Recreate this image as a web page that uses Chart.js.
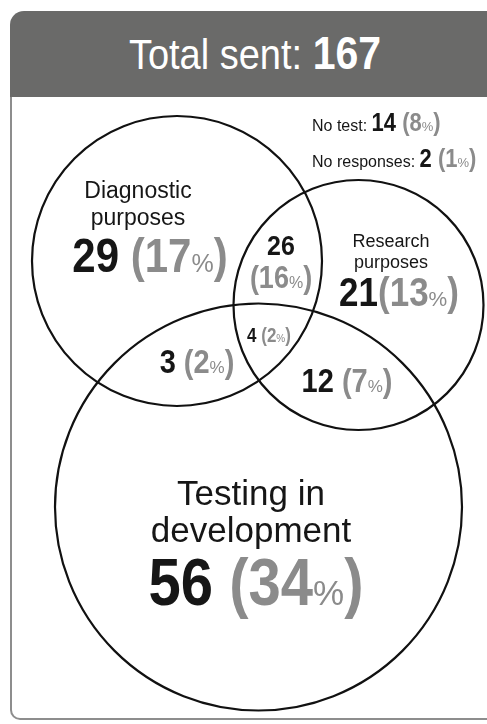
<!DOCTYPE html>
<html>
<head>
<meta charset="utf-8">
<script src="https://cdn.jsdelivr.net/npm/chart.js@4"></script>
<style>
  html, body { margin: 0; padding: 0; background: #fff; overflow: hidden; }
  body { width: 487px; height: 724px; position: relative; font-family: "Liberation Sans", Arial, sans-serif; }
  #head {
    position: absolute; left: 10px; top: 11px; width: 490px; height: 86px;
    background: #6a6a69; border-radius: 14px 14px 0 0;
    color: #fff; text-align: center; line-height: 86px;
  }
  #head span { display: inline-block; transform: scaleY(1.12); transform-origin: 50% 60%; }
  #head .lbl { font-size: 38px; }
  #head .num { font-size: 41px; font-weight: bold; }
  #box {
    position: absolute; left: 10px; top: 97px; width: 486px; height: 621px;
    border: 2px solid #8d8d8d; border-top: none; border-radius: 0 0 10px 10px;
  }
  #venn { position: absolute; left: 0; top: 0; }
</style>
</head>
<body>
<div id="head"><span class="lbl">Total sent:&nbsp;</span><span class="num" id="total"></span></div>
<div id="box"></div>
<canvas id="venn" width="487" height="724"></canvas>
<script>
// Survey counts
var total = 167;
var sets = ['Diagnostic purposes', 'Research purposes', 'Testing in development'];
var setOnly = [29, 21, 56];
var setOnlyPct = [17, 13, 34];
var overlaps = ['Diagnostic + Research', 'Diagnostic + Testing', 'Research + Testing', 'All three'];
var overlapCounts = [26, 3, 12, 4];
var overlapPct = [16, 2, 7, 2];
var outside = ['No test:', 'No responses:'];
var outsideCounts = [14, 2];
var outsidePct = [8, 1];

document.getElementById('total').textContent = total;

// Layout in scale units (x 0..487, y 0..724 downwards)
var layout = {
  circles: [
    { x: 177, y: 261, r: 145 },
    { x: 358.5, y: 305, r: 125 },
    { x: 258.5, y: 507, r: 203.5 }
  ],
  setLabels: [
    { x: 138, lines: [198, 225], nameSize: 23, cx: 150, cy: 272, size: 42, gap: ' ' },
    { x: 391, lines: [247, 268], nameSize: 18, cx: 399, cy: 306, size: 35, gap: '' },
    { x: 251, lines: [505, 542], nameSize: 35, cx: 256, cy: 605, size: 58, gap: ' ' }
  ],
  overlapLabels: [
    { x: 281, y: 255, size: 25, y2: 288, size2: 27 },
    { x: 197, y: 373, size: 29 },
    { x: 347, y: 392, size: 29 },
    { x: 269, y: 342, size: 17 }
  ],
  outsideLabels: [
    { x: 312, y: 131 },
    { x: 312, y: 167 }
  ]
};

var FONT = '"Liberation Sans", Arial, sans-serif';
var BLACK = '#161616';
var GREY = '#8b8b8b';
var NUM_STRETCH = 1.14;

function bold(px) { return 'bold ' + px + 'px ' + FONT; }
function plain(px) { return px + 'px ' + FONT; }

// draws a row of differently styled pieces of text; bold pieces are drawn a bit taller
function drawRuns(ctx, runs, x, y, align) {
  var widths = runs.map(function (r) { ctx.font = r.font; return ctx.measureText(r.text).width; });
  var w = widths.reduce(function (a, b) { return a + b; }, 0);
  var cx = align === 'left' ? x : x - w / 2;
  runs.forEach(function (r, i) {
    ctx.save();
    ctx.font = r.font;
    ctx.fillStyle = r.color;
    ctx.translate(cx, y);
    if (r.font.indexOf('bold') === 0) ctx.scale(1, NUM_STRETCH);
    ctx.fillText(r.text, 0, 0);
    ctx.restore();
    cx += widths[i];
  });
}

function pctRuns(pct, size) {
  return [
    { text: '(' + pct, font: bold(size), color: GREY },
    { text: '%', font: plain(Math.round(size * 0.6)), color: GREY },
    { text: ')', font: bold(size), color: GREY }
  ];
}

// outlines of the three sets, placed through the chart scales
var circlePlugin = {
  id: 'vennCircles',
  beforeDatasetsDraw: function (chart) {
    var ctx = chart.ctx;
    var xs = chart.scales.x, ys = chart.scales.y;
    ctx.save();
    ctx.strokeStyle = '#111';
    ctx.lineWidth = 2.2;
    layout.circles.forEach(function (c) {
      var r = Math.abs(xs.getPixelForValue(c.r) - xs.getPixelForValue(0));
      ctx.beginPath();
      ctx.arc(xs.getPixelForValue(c.x), ys.getPixelForValue(c.y), r, 0, Math.PI * 2);
      ctx.stroke();
    });
    ctx.restore();
  }
};

var labelPlugin = {
  id: 'vennLabels',
  afterDatasetsDraw: function (chart) {
    var ctx = chart.ctx;
    var xs = chart.scales.x, ys = chart.scales.y;
    var px = function (v) { return xs.getPixelForValue(v); };
    var py = function (v) { return ys.getPixelForValue(v); };
    ctx.save();
    ctx.textAlign = 'left';
    ctx.textBaseline = 'alphabetic';

    // set names and exclusive counts
    sets.forEach(function (name, i) {
      var L = layout.setLabels[i];
      var words = name.split(' ');
      var lines = i === 2 ? ['Testing in', 'development'] : [words[0], words.slice(1).join(' ')];
      lines.forEach(function (t, k) {
        drawRuns(ctx, [{ text: t, font: plain(L.nameSize), color: BLACK }], px(L.x), py(L.lines[k]));
      });
      var runs = [{ text: setOnly[i] + L.gap, font: bold(L.size), color: BLACK }].concat(pctRuns(setOnlyPct[i], L.size));
      drawRuns(ctx, runs, px(L.cx), py(L.cy));
    });

    // overlap counts
    overlapCounts.forEach(function (n, i) {
      var L = layout.overlapLabels[i];
      if (L.y2) {
        drawRuns(ctx, [{ text: String(n), font: bold(L.size), color: BLACK }], px(L.x), py(L.y));
        drawRuns(ctx, pctRuns(overlapPct[i], L.size2), px(L.x), py(L.y2));
      } else {
        var runs = [{ text: n + ' ', font: bold(L.size), color: BLACK }].concat(pctRuns(overlapPct[i], L.size));
        drawRuns(ctx, runs, px(L.x), py(L.y));
      }
    });

    // respondents outside the circles
    outside.forEach(function (t, i) {
      var L = layout.outsideLabels[i];
      var runs = [
        { text: t + ' ', font: plain(16), color: BLACK },
        { text: outsideCounts[i] + ' ', font: bold(22), color: BLACK }
      ].concat(pctRuns(outsidePct[i], 22));
      drawRuns(ctx, runs, px(L.x), py(L.y), 'left');
    });
    ctx.restore();
  }
};

new Chart(document.getElementById('venn'), {
  type: 'scatter',
  data: {
    datasets: [{
      label: 'Sets',
      data: layout.circles.map(function (c) { return { x: c.x, y: c.y }; }),
      pointRadius: 0,
      showLine: false
    }]
  },
  options: {
    responsive: false,
    animation: false,
    events: [],
    layout: { padding: 0 },
    plugins: { legend: { display: false }, tooltip: { enabled: false } },
    scales: {
      x: { type: 'linear', min: 0, max: 487, display: false },
      y: { type: 'linear', min: 0, max: 724, reverse: true, display: false }
    }
  },
  plugins: [circlePlugin, labelPlugin]
});
</script>
</body>
</html>
